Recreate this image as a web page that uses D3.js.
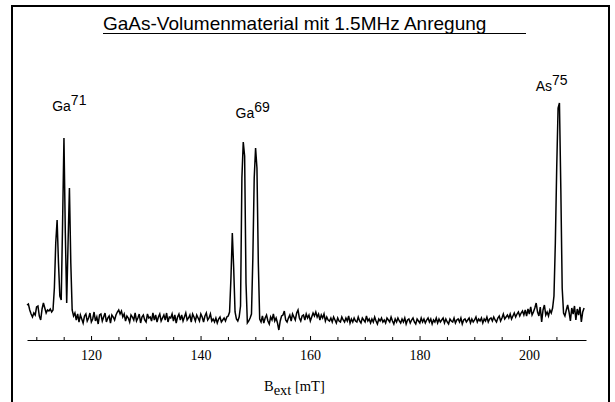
<!DOCTYPE html>
<html>
<head>
<meta charset="utf-8">
<script src="https://cdn.jsdelivr.net/npm/d3@7"></script>
<style>
  body { margin: 0; background: #fff; }
  svg { display: block; }
</style>
</head>
<body>
<div id="chart"></div>
<script>
const title = "GaAs-Volumenmaterial mit 1.5MHz Anregung";

// field sweep: first sample and spacing, in mT
const bStart = 108.3;
const bStep = 0.25;

// NMR signal (arbitrary units, baseline ~ 0)
const signal = [
  13, 14, 8, 4, 1, 5, 3, 11, 12, 2,
  -2, 9, 15, 10, 5, 8, 7, 9, 6, 8,
  30, 75, 98, 55, 22, 18, 95, 180, 85, 15,
  75, 130, 55, 8, 2, 5, -2, 4, -4, 3,
  -1, -5, 2, 4, -3, 0, 5, -4, -1, 6,
  -3, 1, -6, 3, 4, -3, 1, 5, -4, 0,
  2, -5, 3, 1, -2, 3, 6, 8, 4, 7,
  1, 4, -3, 2, 0, -4, 3, 1, -2, 5,
  -3, 0, 4, -5, 1, 3, -2, -4, 4, 0,
  1, -3, 5, -2, 3, -4, 1, 4, -3, 0,
  3, -2, 5, -4, 1, 0, 4, -3, 3, -5,
  1, 4, -2, 3, -3, 1, 5, -2, 0, 3,
  -4, 4, 1, -3, 3, 0, -3, 4, 1, -4,
  2, 5, -2, 0, 4, -3, -1, -4, 0, -5,
  -1, 1, -4, -2, 0, -3, 1, 2, 6, 40,
  85, 50, 6, -1, -3, 1, 12, 140, 176, 162,
  35, -5, -3, 0, 4, 60, 140, 170, 150, 55,
  -1, -4, 2, -5, 0, 3, -3, -6, 1, -2,
  4, -3, 0, -5, -12, -3, 2, 3, 7, -2,
  -4, 0, 3, -3, 4, 1, -2, 5, 8, 0,
  -3, 2, 3, -2, 4, 0, 3, -3, 1, 5,
  2, 6, 1, 4, -2, 3, 0, 4, -3, 1,
  -2, -3, 0, -4, 1, -2, -5, 0, -3, -4,
  1, -2, -4, 0, -3, 2, -5, -1, -4, 0,
  -3, -4, 1, -3, -5, 0, -2, -4, 2, -3,
  -1, -5, -1, -4, 1, -3, -6, -1, -3, 0,
  -4, -2, -5, 0, -2, -4, 1, -3, -6, -1,
  -4, 0, -3, -5, -1, -4, 0, -6, -2, -1,
  -5, -2, 0, -4, -6, -1, -3, -5, 0, -4,
  -1, -5, -2, 0, -4, -1, -6, -2, -4, 0,
  -5, -1, -4, -2, 0, -5, -1, -4, -6, -1,
  -3, -4, 0, -5, -2, -1, -4, 0, -6, -2,
  -1, -4, -2, 0, -5, -1, -4, -2, 1, -4,
  -1, -3, 0, -5, -1, -3, 1, -4, -1, 0,
  -3, 1, -2, -4, 0, 2, -3, 0, 4, -1,
  1, 3, 0, 4, -1, 2, 5, 1, 4, 6,
  2, 5, 7, 3, 8, 2, 9, 4, 11, 3,
  6, 10, 15, 6, 2, 11, -4, 8, 13, 3,
  6, 2, 8, 5, 10, 22, 75, 150, 210, 215,
  130, 30, 5, 2, 8, 13, 6, -3, 10, 4,
  12, -2, 9, 3, 11, -4, 6, 10
];

const xTickLabels = [120, 140, 160, 180, 200];
const xTickAll = [110, 115, 120, 125, 130, 135, 140, 145, 150, 155, 160, 165, 170, 175, 180, 185, 190, 195, 200, 205];

// isotope labels, anchored in data coordinates (field, signal)
const isotopes = [
  { name: "Ga", mass: "71", b: 112.9, v: 207 },
  { name: "Ga", mass: "69", b: 146.4, v: 200 },
  { name: "As", mass: "75", b: 201.2, v: 227 }
];

const width = 615, height = 402;

const svg = d3.select("#chart").append("svg")
    .attr("width", width)
    .attr("height", height);

// frame
svg.append("rect")
    .attr("x", 12).attr("y", 6)
    .attr("width", 597).attr("height", 402)
    .attr("fill", "none")
    .attr("stroke", "#000")
    .attr("stroke-width", 2);

const x = d3.scaleLinear().domain([108.3, 210.4]).range([27, 586]);
const y = d3.scaleLinear().domain([-22, 228]).range([340, 90]);

// title, underlined
svg.append("text")
    .attr("x", 103).attr("y", 30)
    .attr("font-family", "Liberation Sans, Arial, sans-serif")
    .attr("font-size", 19)
    .text(title);

svg.append("line")
    .attr("x1", 103).attr("x2", 526)
    .attr("y1", 33.5).attr("y2", 33.5)
    .attr("stroke", "#000")
    .attr("stroke-width", 1);

// x axis, ticks pointing inward
const xAxis = d3.axisBottom(x)
    .tickValues(xTickAll)
    .tickSize(-4)
    .tickSizeOuter(0)
    .tickPadding(10)
    .tickFormat(d => xTickLabels.includes(d) ? d : "");

const axisG = svg.append("g")
    .attr("transform", "translate(0," + y.range()[0] + ")")
    .call(xAxis);

axisG.select(".domain").attr("stroke", "#000").attr("stroke-width", 1);
axisG.selectAll(".tick line").attr("stroke", "#000");
axisG.selectAll(".tick")
    .filter(d => !xTickLabels.includes(d))
    .select("line").attr("y2", -3);
axisG.selectAll(".tick text")
    .attr("font-family", "Liberation Serif, Times New Roman, serif")
    .attr("font-size", 14)
    .attr("fill", "#000");

// axis title  B_ext [mT]
const axTitle = svg.append("text")
    .attr("x", 264).attr("y", 391)
    .attr("font-family", "Liberation Serif, Times New Roman, serif")
    .attr("font-size", 14.5);
axTitle.append("tspan").text("B");
axTitle.append("tspan").attr("dy", 4).text("ext");
axTitle.append("tspan").attr("dy", -4).text(" [mT]");

// spectrum
const line = d3.line()
    .x((d, i) => x(bStart + i * bStep))
    .y(d => y(d));

svg.append("path")
    .datum(signal)
    .attr("fill", "none")
    .attr("stroke", "#000")
    .attr("stroke-width", 1.5)
    .attr("d", line);

// isotope labels
const lab = svg.selectAll(".iso").data(isotopes).enter()
    .append("text")
    .attr("class", "iso")
    .attr("x", d => x(d.b))
    .attr("y", d => y(d.v))
    .attr("font-family", "Liberation Sans, Arial, sans-serif")
    .attr("font-size", 14);
lab.append("tspan").text(d => d.name);
lab.append("tspan").attr("dy", -6).text(d => d.mass);
</script>
</body>
</html>
